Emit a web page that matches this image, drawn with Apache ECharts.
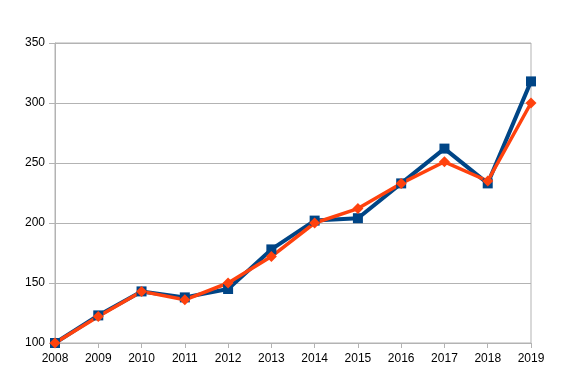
<!DOCTYPE html>
<html>
<head>
<meta charset="utf-8">
<script src="https://cdn.jsdelivr.net/npm/echarts@6/dist/echarts.min.js"></script>
<style>html,body{margin:0;padding:0;background:#fff;}#c{width:565px;height:388px;}</style>
</head>
<body>
<div id="c"></div>
<script>
var categories = ['2008','2009','2010','2011','2012','2013','2014','2015','2016','2017','2018','2019'];
var seriesA = [100, 123, 143, 138, 145, 178, 202, 204, 233, 262, 233, 318];
var seriesB = [100, 122, 143, 136, 150, 172, 200, 212, 233, 251, 235, 300];
var yTicks = { min: 100, max: 350, interval: 50 };

var chart = echarts.init(document.getElementById('c'), null, {renderer: 'canvas'});
chart.setOption({
  animation: false,
  backgroundColor: '#ffffff',
  grid: { left: 55, right: 34, top: 43, bottom: 45, show: true, borderColor: '#b3b3b3', borderWidth: 1, backgroundColor: 'transparent' },
  xAxis: {
    type: 'category', data: categories, boundaryGap: false,
    axisLine: { show: true, lineStyle: { color: '#b3b3b3', width: 1 } },
    axisTick: { show: true, length: 5, lineStyle: { color: '#b3b3b3' } },
    axisLabel: { color: '#000', fontFamily: 'Liberation Sans', fontSize: 12, margin: 10 },
    splitLine: { show: false }
  },
  yAxis: {
    type: 'value', min: yTicks.min, max: yTicks.max, interval: yTicks.interval,
    axisLine: { show: true, lineStyle: { color: '#b3b3b3', width: 1 } },
    axisTick: { show: true, length: 6, lineStyle: { color: '#b3b3b3' } },
    axisLabel: { color: '#000', fontFamily: 'Liberation Sans', fontSize: 12, margin: 10 },
    splitLine: { show: true, lineStyle: { color: '#b3b3b3', width: 1 } }
  },
  series: [
    { type: 'line', data: seriesA, symbol: 'rect', symbolSize: 10,
      lineStyle: { color: '#004586', width: 4 }, itemStyle: { color: '#004586' } },
    { type: 'line', data: seriesB, symbol: 'diamond', symbolSize: 11,
      lineStyle: { color: '#ff420e', width: 3.5 }, itemStyle: { color: '#ff420e' } }
  ]
});
</script>
</body>
</html>
